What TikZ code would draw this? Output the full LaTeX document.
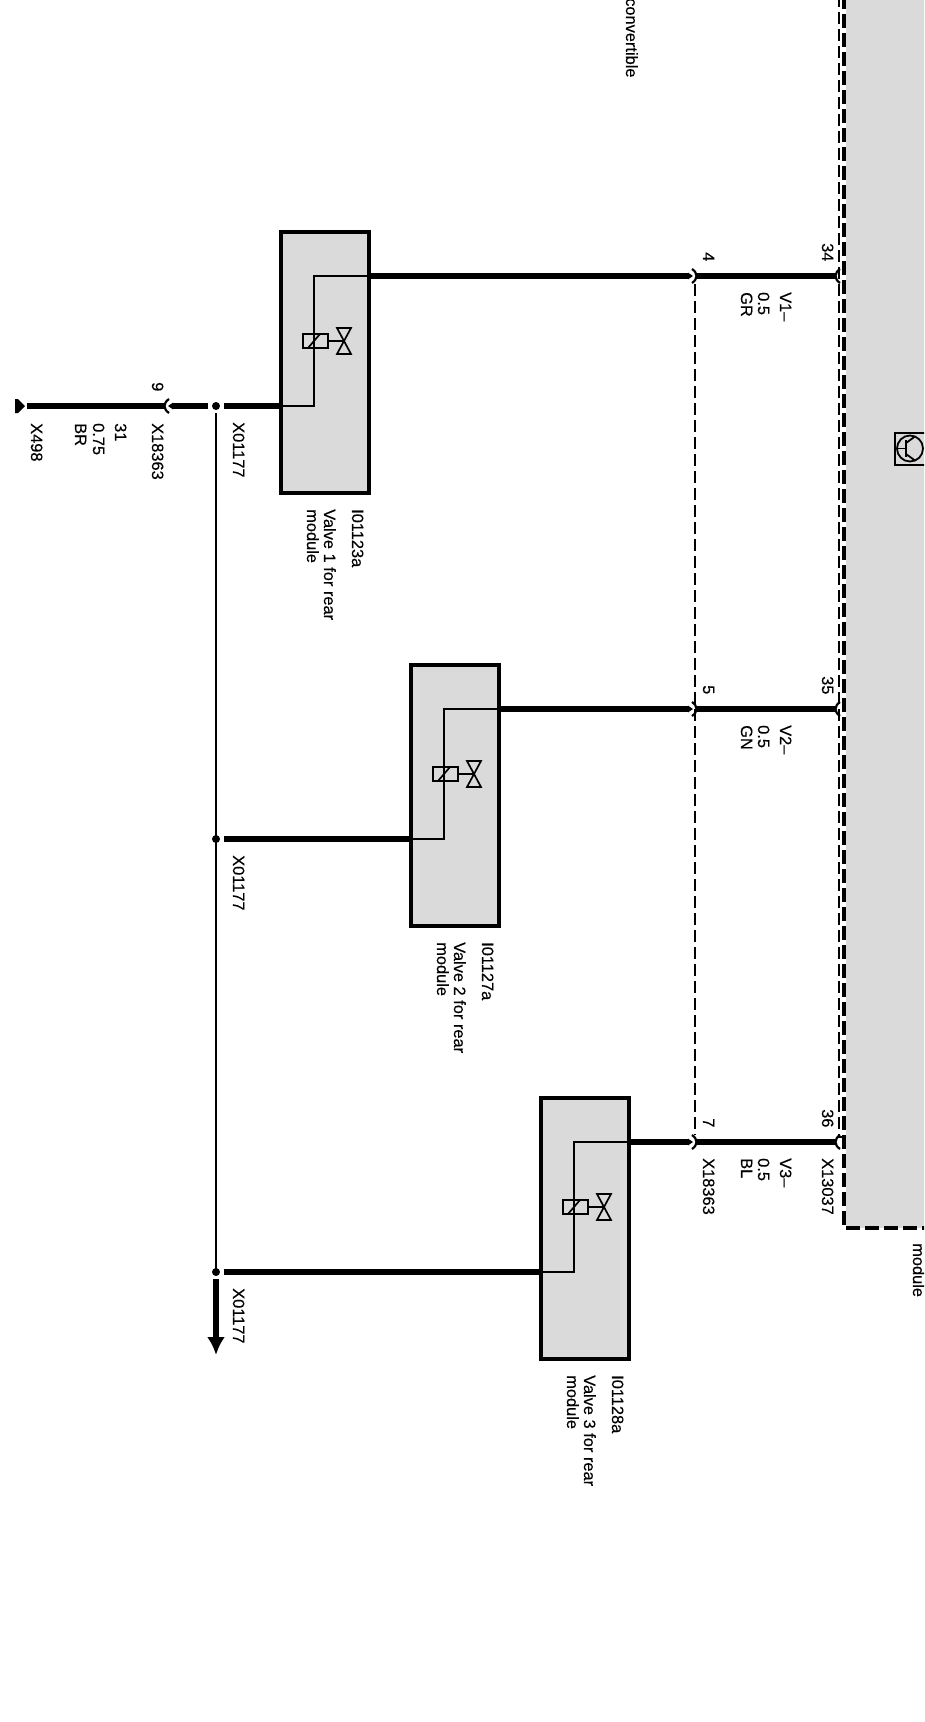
\documentclass[tikz,border=0pt]{standalone}
\usepackage{fontspec}
\setmainfont{Liberation Sans}
\newfontfamily\wirefont[FakeBold=0.25]{Liberation Sans}
\usetikzlibrary{arrows.meta}
\definecolor{modgray}{HTML}{DADADA}
\tikzset{
    wirelabel/.style={rotate=-90,anchor=base west,inner sep=0pt,font=\wirefont\fontsize{16.4}{18}\selectfont},
    valvebox/.style={draw,line width=3.5pt,fill=modgray,minimum width=88pt,minimum height=261pt,outer sep=0pt,anchor=north west},
    thickwire/.style={line width=6.5pt},
    thinwire/.style={line width=2pt},
    tipwire/.style={line width=6.5pt,-{Triangle[length=5pt,width=6.5pt]}},
    pinarc/.style={line width=2.2pt},
    thindash/.style={line width=1.5pt,dash pattern=on 12pt off 5pt},
    thickdash/.style={line width=4pt,dash pattern=on 14pt off 5pt},
}
\begin{document}
\begin{tikzpicture}[x=1pt,y=-1pt]
    \useasboundingbox (0,0) rectangle (924,1722);
    \clip (0,0) rectangle (924,1722);
    % control module at the right edge
    \fill[modgray] (846,-5) rectangle (930,1228);
    \coordinate (modtop) at (844,-5);
    \coordinate (modcorner) at (844,1228);
    \coordinate (modend) at (930,1228);
    \draw[thickdash] (modtop) -- (modcorner) -- (modend);
    \coordinate (shieldtop) at (839,-5);
    \coordinate (shieldcorner) at (839,1137);
    \coordinate (shieldend) at (844,1137);
    \draw[thindash] (shieldtop) -- (shieldcorner) -- (shieldend);
    \node[wirelabel] (modname) at (913,1243) {module};
    \node[wirelabel] (roofname) at (626,-2) {convertible};
    % transistor symbol
    \draw[line width=1.8pt] (895,433) rectangle (932,465);
    \draw[line width=1.8pt] (910,448.5) circle (13);
    \draw[line width=1.8pt] (897,448.5) -- (906,448.5);
    \draw[line width=1.8pt] (906,440) -- (906,457);
    \draw[line width=1.8pt] (906,443) -- (915,436.5);
    \draw[line width=1.8pt] (906,454) -- (915,460.5);
    % dashed plug housing
    \coordinate (plugtop) at (695,284);
    \coordinate (plugend) at (695,1135);
    \draw[thindash] (plugtop) -- (plugend);
    % valves
    \foreach \n/\wy/\bx/\pa/\pb/\sig/\col/\vid in {1/276/281/34/4/V1–/GR/I01123a,2/709/411/35/5/V2–/GN/I01127a,3/1142/541/36/7/V3–/BL/I01128a}{
        \node[valvebox] (box\n) at (\bx,\wy-44) {};
        \coordinate (in\n) at (\bx+88,\wy);
        \coordinate (bend\n) at (\bx+33,\wy);
        \coordinate (low\n) at (\bx+33,\wy+130);
        \coordinate (out\n) at (\bx,\wy+130);
        \coordinate (dot\n) at (216,\wy+130);
        \coordinate (tap\n) at (224,\wy+130);
        \coordinate (plugin\n) at (693,\wy);
        \coordinate (plugout\n) at (696,\wy);
        \coordinate (modpin\n) at (835,\wy);
        \draw[thinwire] (in\n) -- (bend\n) -- (low\n) -- (out\n);
        \draw[tipwire] (in\n) -- (plugin\n);
        \draw[thickwire] (plugout\n) -- (modpin\n);
        \draw[thickwire] (out\n) -- (tap\n);
        \fill (dot\n) circle (4);
        % coil and valve
        \draw[line width=1.7pt] (\bx+22,\wy+58) rectangle (\bx+47,\wy+72);
        \draw[line width=1.7pt] (\bx+27,\wy+72) -- (\bx+39,\wy+58);
        \draw[line width=1.7pt] (\bx+47,\wy+65) -- (\bx+63,\wy+65);
        \draw[line width=1.7pt] (\bx+56,\wy+52) -- (\bx+70,\wy+52) -- (\bx+56,\wy+78) -- (\bx+70,\wy+78) -- cycle;
        % pins
        \draw[pinarc] (692,\wy-7) .. controls (698,\wy-3) and (698,\wy+3) .. (692,\wy+7);
        \draw[pinarc] (840,\wy-7) .. controls (834,\wy-3) and (834,\wy+3) .. (840,\wy+7);
        % labels
        \node[wirelabel] (numa\n) at (822,\wy-33) {\pa};
        \node[wirelabel] (numb\n) at (703,\wy-24) {\pb};
        \node[wirelabel] (sig\n) at (780,\wy+16) {\sig};
        \node[wirelabel] (size\n) at (758,\wy+16) {0.5};
        \node[wirelabel] (col\n) at (741,\wy+16) {\col};
        \node[wirelabel] (tapname\n) at (233,\wy+146) {X01177};
        \node[wirelabel] (vid\n) at (\bx+71,\wy+233) {\vid};
        \node[wirelabel] (vname\n) at (\bx+43,\wy+233) {Valve \n{} for rear};
        \node[wirelabel] (vmod\n) at (\bx+26,\wy+233) {module};
    }
    \node[wirelabel] (plugname) at (703,1158) {X18363};
    \node[wirelabel] (modplug) at (822,1158) {X13037};
    % earth side
    \coordinate (trunktop) at (216,413);
    \draw[thinwire] (trunktop) -- (dot3);
    \coordinate (arrowtop) at (216,1279);
    \coordinate (arrowend) at (216,1355);
    \draw[line width=6.5pt,-{Latex[length=18pt,width=18pt]}] (arrowtop) -- (arrowend);
    \coordinate (leftwire) at (208,406);
    \coordinate (leftpin) at (168,406);
    \coordinate (earthpin) at (164,406);
    \coordinate (earthend) at (27,406);
    \draw[tipwire] (leftwire) -- (leftpin);
    \draw[thickwire] (earthpin) -- (earthend);
    \draw[pinarc] (169,399) .. controls (163,403) and (163,409) .. (169,413);
    \fill (15,399) -- (18,399) -- (25,406) -- (18,413) -- (15,413) -- cycle;
    \node[wirelabel] (num9) at (152,382) {9};
    \node[wirelabel] (plugnameb) at (152,423) {X18363};
    \node[wirelabel] (sig31) at (115,423) {31};
    \node[wirelabel] (size31) at (93,423) {0.75};
    \node[wirelabel] (col31) at (75,423) {BR};
    \node[wirelabel] (earth) at (31,423) {X498};
\end{tikzpicture}
\end{document}
